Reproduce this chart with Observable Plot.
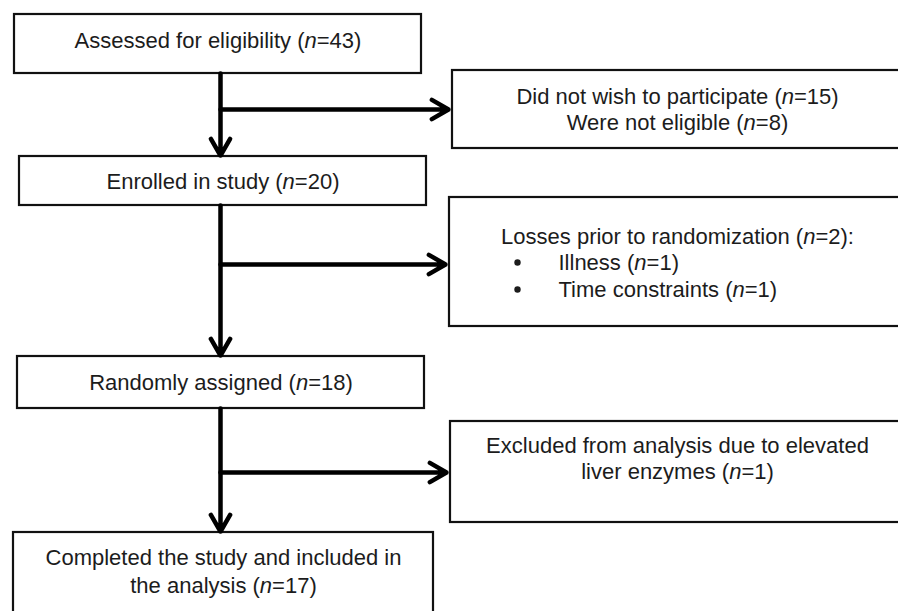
<!DOCTYPE html>
<html>
<head>
<meta charset="utf-8">
<script src="https://cdn.jsdelivr.net/npm/d3@7"></script>
<script src="https://cdn.jsdelivr.net/npm/@observablehq/plot@0.6"></script>
<style>
  html, body { margin: 0; padding: 0; background: #fff; overflow: hidden; }
  #chart svg { display: block; overflow: hidden; }
</style>
</head>
<body>
<div id="chart"></div>
<script>
// ---- Chart content (values) ----
const stageLabels = ["Assessed for eligibility", "Enrolled in study", "Randomly assigned", "Completed the study and included in\nthe analysis"];
const stageN = [43, 20, 18, 17];
const exclusionLabels = ["Did not wish to participate", "Losses prior to randomization", "Excluded from analysis due to elevated\nliver enzymes"];
const exclusionN = [15, 2, 1];
const notEligibleLabel = "Were not eligible";
const notEligibleN = 8;
const lossReasons = ["Illness", "Time constraints"];
const lossReasonN = [1, 1];

// ---- Layout (diagram coordinates) ----
const stageBoxX1 = [14, 19, 17, 13];
const stageBoxX2 = [421, 426, 424, 433];
const stageBoxY1 = [14, 156, 356, 532];
const stageBoxY2 = [73, 205, 408, 625];
const stageTextY = [39, 180, 381, 570];
const sideBoxX1 = [452, 449, 450];
const sideBoxY1 = [70, 197, 421];
const sideBoxY2 = [148, 326, 522];
const sideArrowY = [109, 264, 472];
const trunkX = 220;
const sideTextX = 677;

const stageText = stageLabels.map((s, i) => `${s} (n=${stageN[i]})`);
const stages = stageText.map((t, i) => ({
  t, x1: stageBoxX1[i], x2: stageBoxX2[i], y1: stageBoxY1[i], y2: stageBoxY2[i],
  cx: (stageBoxX1[i] + stageBoxX2[i]) / 2, cy: stageTextY[i]
}));
const sideBoxes = sideBoxX1.map((x1, i) => ({x1, x2: 910, y1: sideBoxY1[i], y2: sideBoxY2[i]}));
const sideText = [
  {t: `${exclusionLabels[0]} (n=${exclusionN[0]})\n${notEligibleLabel} (n=${notEligibleN})`, x: sideTextX, y: 108},
  {t: `${exclusionLabels[1]} (n=${exclusionN[1]}):`, x: sideTextX, y: 235},
  {t: exclusionLabels[2].replace("enzymes", `enzymes (n=${exclusionN[2]})`), x: sideTextX, y: 457}
];
const bulletItems = lossReasons.map((r, i) => ({t: `${r} (n=${lossReasonN[i]})`, bx: 517, x: 558, y: 262 + 27 * i}));

const downArrows = [0, 1, 2].map(i => ({x1: trunkX, y1: stageBoxY2[i], x2: trunkX, y2: stageBoxY1[i + 1] - 1}));
const sideArrows = sideArrowY.map((y, i) => ({x1: trunkX, y1: y, x2: sideBoxX1[i] - 4, y2: y}));

const font = "Liberation Sans, Arial, Helvetica, sans-serif";
const ink = "#111";
const textInk = "#1c1c1c";
const arrowOpts = {x1: "x1", y1: "y1", x2: "x2", y2: "y2", stroke: "#000", strokeWidth: 4.5, headLength: 6.4, headAngle: 60};

const chart = Plot.plot({
  width: 898,
  height: 611,
  margin: 0,
  x: {domain: [0, 898], range: [0, 898], axis: null},
  y: {domain: [0, 611], range: [0, 611], axis: null},
  style: {fontFamily: font, background: "#fff"},
  marks: [
    Plot.rect(stages, {x1: "x1", x2: "x2", y1: "y1", y2: "y2", fill: "#fff", stroke: ink, strokeWidth: 2.2, clip: true}),
    Plot.rect(sideBoxes, {x1: "x1", x2: "x2", y1: "y1", y2: "y2", fill: "#fff", stroke: ink, strokeWidth: 2.2, clip: true}),
    Plot.arrow(downArrows, arrowOpts),
    Plot.arrow(sideArrows, arrowOpts),
    Plot.text(stages, {x: "cx", y: "cy", text: "t", fontSize: 22, lineHeight: 1.27, fill: textInk, textAnchor: "middle", lineAnchor: "middle"}),
    Plot.text(sideText, {x: "x", y: "y", text: "t", fontSize: 22, lineHeight: 1.2, fill: textInk, textAnchor: "middle", lineAnchor: "middle"}),
    Plot.dot(bulletItems, {x: "bx", y: "y", r: 3.2, fill: textInk, stroke: "none"}),
    Plot.text(bulletItems, {x: "x", y: "y", text: "t", fontSize: 22, fill: textInk, textAnchor: "start", lineAnchor: "middle"})
  ]
});

// italicise the statistical symbol "n"
chart.querySelectorAll("text").forEach(t => {
  const spans = t.querySelectorAll("tspan");
  const targets = spans.length ? Array.from(spans) : [t];
  targets.forEach(el => {
    const s = el.textContent;
    if (s.includes("(n=")) el.innerHTML = s.replace(/\(n=/g, '(<tspan font-style="italic">n</tspan>=');
  });
});

document.getElementById("chart").append(chart);
</script>
</body>
</html>
